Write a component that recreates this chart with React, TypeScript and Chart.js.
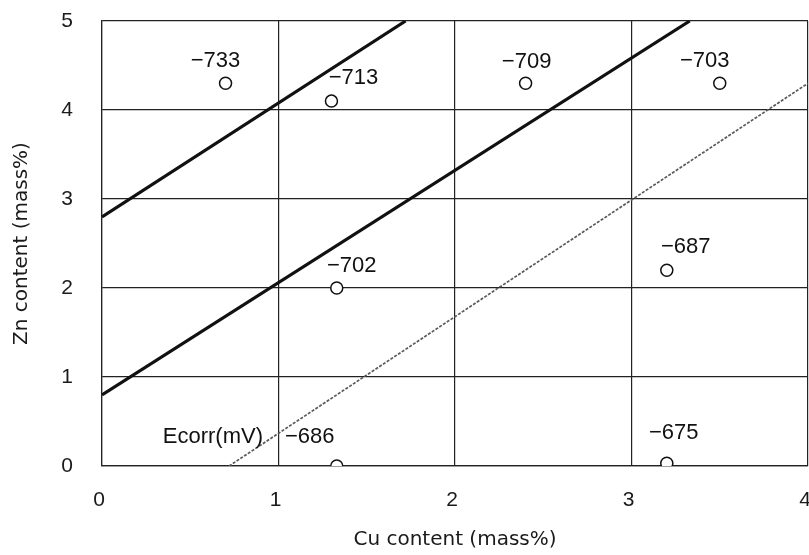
import React, { useEffect, useRef } from "react";
import { Chart, registerables } from "chart.js";

Chart.register(...registerables);

// Measured specimens: Cu content, Zn content, corrosion potential
const cuContent = [0.7, 1.3, 2.4, 3.5, 1.33, 3.2, 1.33, 3.2];
const znContent = [4.3, 4.1, 4.3, 4.3, 2.0, 2.2, 0.0, 0.03];
const ecorr = ["−733", "−713", "−709", "−703", "−702", "−687", "−686", "−675"];

// Boundary lines (Cu, Zn endpoints)
const line1Cu = [0, 1.72];
const line1Zn = [2.8, 5];
const line2Cu = [0, 3.33];
const line2Zn = [0.8, 5];
const line3Cu = [0.72, 4];
const line3Zn = [0, 4.3];

const xTicks = [0, 1, 2, 3, 4];
const yTicks = [0, 1, 2, 3, 4, 5];
const ecorrTitle = "Ecorr(mV)";

// label placement (style only): offset of each label from its point, in px
const labelOffsets: [number, number][] = [
  [-10, -22], [22, -23], [1, -21], [-15, -22], [15, -22], [19, -23], [-27, -29], [7, -30],
];

const LABEL_FONT = "22px 'Liberation Sans', Arial, sans-serif";

const labelPlugin = {
  id: "ecorrLabels",
  afterDatasetsDraw(chart: any) {
    const { ctx, scales } = chart;
    ctx.save();
    ctx.font = LABEL_FONT;
    ctx.fillStyle = "#111";
    ctx.textAlign = "center";
    ctx.textBaseline = "middle";
    for (let i = 0; i < cuContent.length; i++) {
      const px = scales.x.getPixelForValue(cuContent[i]);
      const py = scales.y.getPixelForValue(znContent[i]);
      const [dx, dy] = labelOffsets[i];
      ctx.fillText(ecorr[i], px + dx, py + dy);
      if (i === 6) {
        const w = ctx.measureText(ecorr[i]).width;
        ctx.textAlign = "right";
        ctx.fillText(ecorrTitle, px + dx - w / 2 - 22, py + dy);
        ctx.textAlign = "center";
      }
    }
    ctx.restore();
  },
};

const toPts = (xs: number[], ys: number[]) => xs.map((x, i) => ({ x, y: ys[i] }));
const noPad = () => ({ left: 0, top: 0, right: 0, bottom: 0 });

export default function App() {
  const ref = useRef<HTMLCanvasElement | null>(null);
  useEffect(() => {
    if (!ref.current) return;
    const chart = new Chart(ref.current, {
      type: "scatter",
      data: {
        datasets: [
          {
            label: "Ecorr",
            data: toPts(cuContent, znContent),
            pointRadius: 6,
            pointBackgroundColor: "#ffffff",
            pointBorderColor: "#111",
            pointBorderWidth: 1.5,
            showLine: false,
          },
          {
            label: "b1",
            data: toPts(line1Cu, line1Zn),
            showLine: true,
            borderColor: "#111",
            borderWidth: 3.2,
            pointRadius: 0,
          },
          {
            label: "b2",
            data: toPts(line2Cu, line2Zn),
            showLine: true,
            borderColor: "#111",
            borderWidth: 3.2,
            pointRadius: 0,
          },
          {
            label: "b3",
            data: toPts(line3Cu, line3Zn),
            showLine: true,
            borderColor: "#5a5a5a",
            borderWidth: 1.7,
            borderDash: [3, 1.5],
            pointRadius: 0,
          },
        ],
      },
      options: {
        animation: false,
        responsive: false,
        devicePixelRatio: 1,
        layout: { autoPadding: false, padding: { top: 21, right: 1, bottom: 0, left: 0 } },
        plugins: { legend: { display: false }, tooltip: { enabled: false } },
        scales: {
          x: {
            type: "linear",
            min: 0,
            max: 4,
            afterBuildTicks: (s: any) => {
              s.ticks = xTicks.map((v) => ({ value: v }));
            },
            afterFit: (s: any) => {
              s.height = 89;
              s.paddingLeft = 0;
              s.paddingRight = 0;
              s.getPadding = noPad;
            },
            grid: { color: "#222", lineWidth: 1.2, drawTicks: false },
            border: { color: "#222", width: 1.2 },
            ticks: {
              padding: 22,
              labelOffset: -3,
              maxRotation: 0,
              color: "#1a1a1a",
              font: { family: "'Liberation Sans', Arial, sans-serif", size: 21 },
            },
            title: {
              display: true,
              text: "Cu content (mass%)",
              color: "#1a1a1a",
              padding: { top: 0, bottom: 3 },
              font: { family: "'DejaVu Sans', sans-serif", size: 20 },
            },
          },
          y: {
            type: "linear",
            min: 0,
            max: 5,
            afterBuildTicks: (s: any) => {
              s.ticks = yTicks.map((v) => ({ value: v }));
            },
            afterFit: (s: any) => {
              s.width = 102;
              s.paddingTop = 0;
              s.paddingBottom = 0;
              s.getPadding = noPad;
            },
            grid: { color: "#222", lineWidth: 1.2, drawTicks: false },
            border: { color: "#222", width: 1.2 },
            ticks: {
              padding: 29,
              color: "#1a1a1a",
              font: { family: "'Liberation Sans', Arial, sans-serif", size: 21 },
            },
            title: {
              display: true,
              text: "Zn content (mass%)",
              color: "#1a1a1a",
              padding: { top: 10, bottom: 0 },
              font: { family: "'DejaVu Sans', sans-serif", size: 20 },
            },
          },
        },
      },
      plugins: [labelPlugin],
    });
    return () => chart.destroy();
  }, []);
  return (
    <div style={{ position: "absolute", left: 0, top: 0, width: 809, height: 555, background: "#fff" }}>
      <canvas ref={ref} width={809} height={555} />
    </div>
  );
}
